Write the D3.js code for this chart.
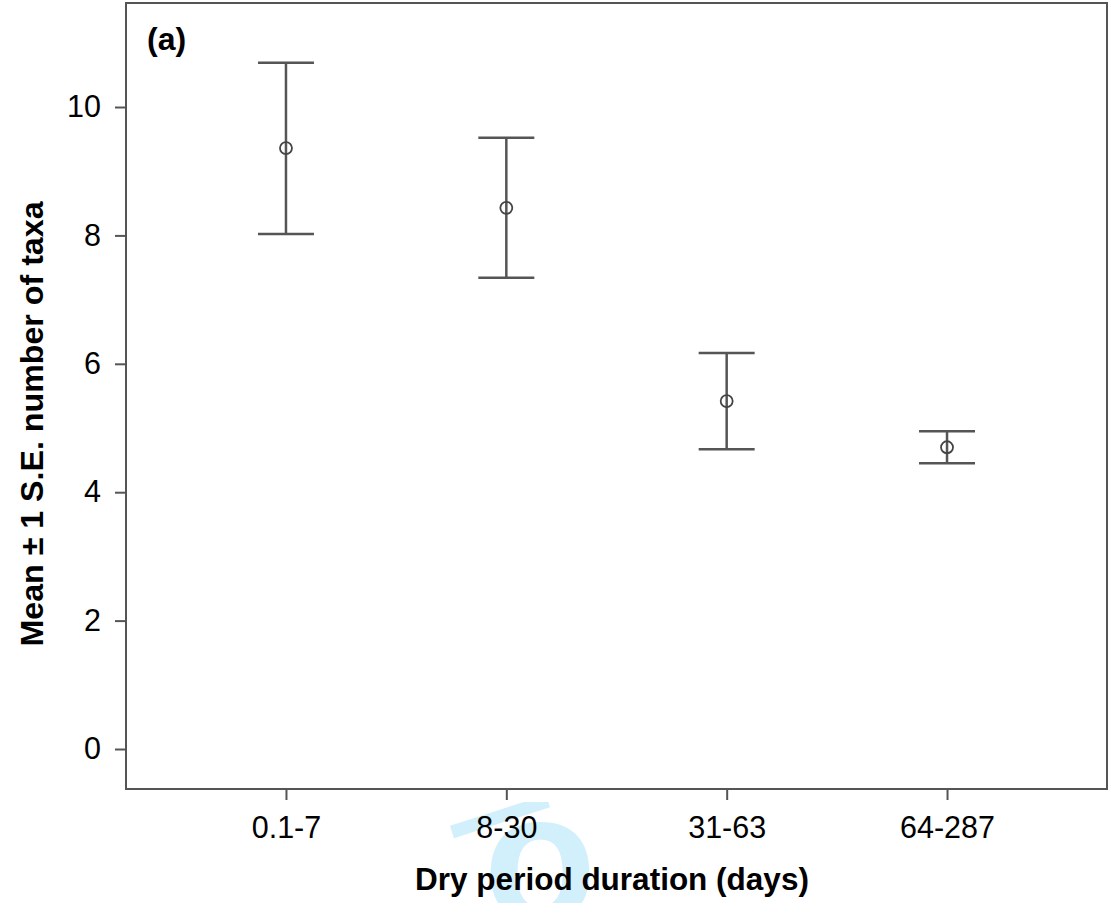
<!DOCTYPE html>
<html>
<head>
<meta charset="utf-8">
<script src="https://cdn.jsdelivr.net/npm/d3@7"></script>
<style>
  body { margin: 0; background: #fff; }
  svg { display: block; font-family: "Liberation Sans", Arial, sans-serif; }
</style>
</head>
<body>
<script>
// Data
var categories = ["0.1-7", "8-30", "31-63", "64-287"];
var means = [9.36, 8.43, 5.42, 4.70];
var upper = [10.69, 9.52, 6.17, 4.95];
var lower = [8.02, 7.34, 4.67, 4.45];
var yTicks = [0, 2, 4, 6, 8, 10];

var width = 1113,
    height = 903;

// plot frame
var frameL = 126, frameR = 1107, frameT = 3, frameB = 789;

var svg = d3.select("body").append("svg")
    .attr("width", width)
    .attr("height", height);

// Scales
var x = d3.scaleLinear()
    .domain([-0.726, categories.length - 1 + 0.726])
    .range([frameL, frameR]);

var y = d3.scaleLinear()
    .domain([-0.623, 11.62])
    .range([frameB, frameT]);

var rows = categories.map(function(c, i) {
  return {cat: c, i: i, mean: means[i], hi: upper[i], lo: lower[i]};
});

// faint watermark fragment below the frame (only a piece shows)
svg.append("clipPath").attr("id", "wm")
  .append("rect").attr("x", 0).attr("y", 802).attr("width", width).attr("height", 101);
var wm = svg.append("g")
    .attr("clip-path", "url(#wm)")
    .attr("fill", "#d2effc");
wm.append("line")
    .attr("x1", 452).attr("y1", 832)
    .attr("x2", 548).attr("y2", 801)
    .attr("stroke", "#d2effc")
    .attr("stroke-width", 13);
wm.append("text")
    .attr("x", 540)
    .attr("y", 922)
    .attr("text-anchor", "middle")
    .attr("font-size", 185)
    .attr("font-weight", "bold")
    .text("o");

// frame
svg.append("rect")
    .attr("x", frameL).attr("y", frameT)
    .attr("width", frameR - frameL).attr("height", frameB - frameT)
    .attr("fill", "none")
    .attr("stroke", "#555")
    .attr("stroke-width", 2);

// Axes
var yAxis = d3.axisLeft(y)
    .tickValues(yTicks)
    .tickSize(11)
    .tickPadding(14)
    .tickFormat(d3.format("d"));

var gy = svg.append("g")
    .attr("transform", "translate(" + frameL + ",0)")
    .call(yAxis);

var xAxis = d3.axisBottom(x)
    .tickValues(d3.range(categories.length))
    .tickSize(11)
    .tickPadding(16)
    .tickFormat(function(d) { return categories[d]; });

var gx = svg.append("g")
    .attr("transform", "translate(0," + frameB + ")")
    .call(xAxis);

[gx, gy].forEach(function(g) {
  g.select(".domain").remove();
  g.selectAll(".tick line").attr("stroke", "#555").attr("stroke-width", 2);
  g.selectAll(".tick text")
    .attr("font-size", 30.5)
    .attr("font-family", "'Liberation Sans', Arial, sans-serif")
    .attr("fill", "#000");
});

// Error bars
var capHalf = 28;
var bars = svg.append("g")
    .attr("stroke", "#555")
    .attr("stroke-width", 2.5)
    .attr("fill", "none");

bars.selectAll("line.stem")
    .data(rows)
    .enter().append("line")
    .attr("class", "stem")
    .attr("x1", function(d) { return x(d.i); })
    .attr("x2", function(d) { return x(d.i); })
    .attr("y1", function(d) { return y(d.hi); })
    .attr("y2", function(d) { return y(d.lo); });

bars.selectAll("line.cap-hi")
    .data(rows)
    .enter().append("line")
    .attr("class", "cap-hi")
    .attr("x1", function(d) { return x(d.i) - capHalf; })
    .attr("x2", function(d) { return x(d.i) + capHalf; })
    .attr("y1", function(d) { return y(d.hi); })
    .attr("y2", function(d) { return y(d.hi); });

bars.selectAll("line.cap-lo")
    .data(rows)
    .enter().append("line")
    .attr("class", "cap-lo")
    .attr("x1", function(d) { return x(d.i) - capHalf; })
    .attr("x2", function(d) { return x(d.i) + capHalf; })
    .attr("y1", function(d) { return y(d.lo); })
    .attr("y2", function(d) { return y(d.lo); });

// mean markers
svg.append("g")
    .selectAll("circle")
    .data(rows)
    .enter().append("circle")
    .attr("cx", function(d) { return x(d.i); })
    .attr("cy", function(d) { return y(d.mean); })
    .attr("r", 6)
    .attr("fill", "none")
    .attr("stroke", "#444")
    .attr("stroke-width", 1.8);

// Panel label
svg.append("text")
    .attr("x", 147)
    .attr("y", 50)
    .attr("font-size", 32)
    .attr("font-weight", "bold")
    .text("(a)");

// Axis titles
svg.append("text")
    .attr("x", 612)
    .attr("y", 890)
    .attr("text-anchor", "middle")
    .attr("font-size", 31.5)
    .attr("font-weight", "bold")
    .text("Dry period duration (days)");

svg.append("text")
    .attr("transform", "translate(43,424) rotate(-90)")
    .attr("text-anchor", "middle")
    .attr("font-size", 32.2)
    .attr("font-weight", "bold")
    .text("Mean \u00b1 1 S.E. number of taxa");
</script>
</body>
</html>
